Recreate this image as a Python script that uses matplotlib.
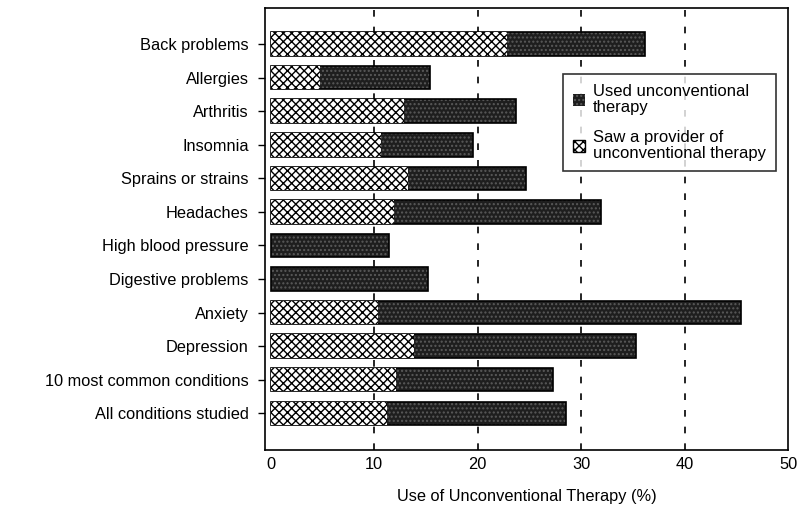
import matplotlib.pyplot as plt
from matplotlib.patches import Patch

plt.rcParams['font.family'] = ['Liberation Sans', 'DejaVu Sans']

conditions = ['Back problems', 'Allergies', 'Arthritis', 'Insomnia',
              'Sprains or strains', 'Headaches', 'High blood pressure',
              'Digestive problems', 'Anxiety', 'Depression',
              '10 most common conditions', 'All conditions studied']
used = [36.2, 15.4, 23.7, 19.6, 24.7, 31.9, 11.4, 15.2, 45.4, 35.3, 27.3, 28.5]
provider = [22.8, 4.8, 12.9, 10.7, 13.3, 11.9, 0, 0, 10.4, 13.9, 12.1, 11.2]
xticks = [0, 10, 20, 30, 40, 50]

fig = plt.figure(figsize=(7.97, 5.11), dpi=100)
ax = fig.add_axes([0.333, 0.119, 0.656, 0.865])

ypos = list(range(len(conditions)))
h = 0.7

# dashed grid behind bars
for g in xticks[1:-1]:
    ax.axvline(g, color='black', linestyle=(0, (4, 6)), linewidth=1.2, zorder=0)

# used bar: dark with grainy look
ax.barh(ypos, used, height=h, color='#1e1e1e', edgecolor='#5a5a5a',
        hatch='....', linewidth=0, zorder=2)
ax.barh(ypos, used, height=h, fill=False, edgecolor='black', linewidth=1.2, zorder=3)
# provider part: cross-hatched
ax.barh(ypos, provider, height=h, color='white', edgecolor='black',
        hatch='xxxx', linewidth=0, zorder=4)

ax.set_xlim(-0.5, 50)
ax.set_ylim(len(conditions) - 1 + 1.1, -1.07)
ax.set_yticks(ypos)
ax.set_yticklabels(conditions, fontsize=11.8)
ax.set_xticks(xticks)
ax.set_xticklabels([str(x) for x in xticks], fontsize=11.8)
ax.tick_params(axis='y', length=5, width=1, pad=7)
ax.tick_params(axis='x', length=0, pad=5)
for s in ax.spines.values():
    s.set_linewidth(1.2)

ax.set_xlabel('Use of Unconventional Therapy (%)', fontsize=11.8, labelpad=12)

handles = [Patch(facecolor='#1e1e1e', edgecolor='#5a5a5a', hatch='....', linewidth=0),
           Patch(facecolor='white', edgecolor='black', hatch='xxxx')]
leg = ax.legend(handles, ['Used unconventional\ntherapy',
                          'Saw a provider of\nunconventional therapy'],
                loc='upper right', bbox_to_anchor=(0.977, 0.851), fontsize=12,
                frameon=True, fancybox=False, edgecolor='black',
                handlelength=0.7, handleheight=0.7, handletextpad=0.5,
                labelspacing=0.9, borderpad=0.6, borderaxespad=0)
leg.get_frame().set_linewidth(1.2)
for t in leg.get_texts():
    t.set_linespacing(1.1)

fig.savefig('out.png', dpi=100)
